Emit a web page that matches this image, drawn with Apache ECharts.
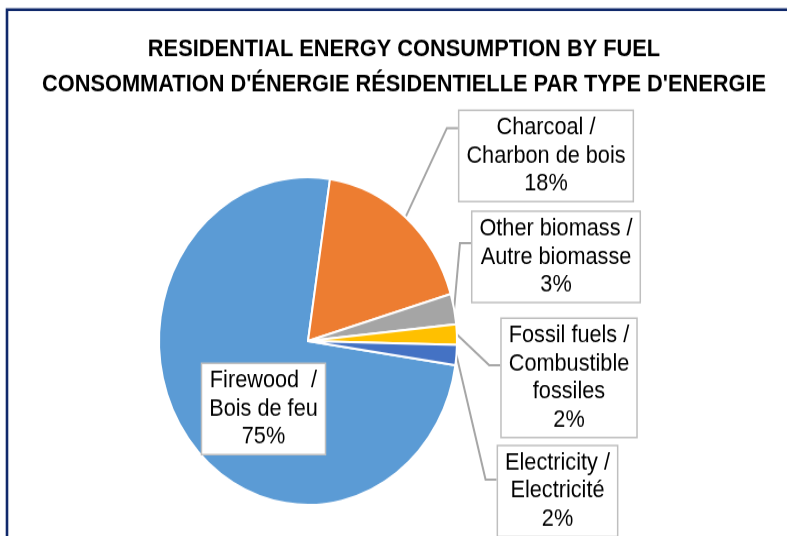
<!DOCTYPE html>
<html>
<head>
<meta charset="utf-8">
<script src="https://cdn.jsdelivr.net/npm/echarts@6/dist/echarts.min.js"></script>
<style>
html, body { margin: 0; padding: 0; background: #ffffff; overflow: hidden; }
#wrap { width: 787px; height: 536px; overflow: hidden; }
#chart { width: 787px; height: 488px; transform: scaleY(1.1); transform-origin: 0 0; }
</style>
</head>
<body>
<div id="wrap"><div id="chart"></div></div>
<script>
// ---- data ----
var titleLines = [
  'RESIDENTIAL ENERGY CONSUMPTION BY FUEL',
  "CONSOMMATION D'ÉNERGIE RÉSIDENTIELLE PAR TYPE D'ENERGIE"
];
var categories = [
  'Firewood  /\nBois de feu',
  'Charcoal /\nCharbon de bois',
  'Other biomass /\nAutre biomasse',
  'Fossil fuels /\nCombustible\nfossiles',
  'Electricity /\nElectricité'
];
var shares = [75, 18, 3, 2, 2];
var colors = ['#5B9BD5', '#ED7D31', '#A5A5A5', '#FFC000', '#4472C4'];

// ---- label box layout (centre of box, y of leader-line end) ----
var labelBoxes = [
  { cx: 263.5, cy: 371.8, lineY: null },
  { cx: 546, cy: 141.8, lineY: 116.4 },
  { cx: 556, cy: 233.6, lineY: 221 },
  { cx: 569, cy: 343.6, lineY: 332 },
  { cx: 557.5, cy: 446.4, lineY: 436 }
];

var chart = echarts.init(document.getElementById('chart'), null, { renderer: 'canvas' });

var pieData = categories.map(function (c, i) {
  var item = { name: c, value: shares[i], itemStyle: { color: colors[i] } };
  if (i === 0) {
    item.label = { position: 'inside' };
    item.labelLine = { show: false };
  }
  return item;
});

var option = {
  backgroundColor: '#ffffff',
  animation: false,
  title: {
    text: titleLines.join('\n'),
    left: 399,
    top: 24.5,
    textAlign: 'center',
    textStyle: {
      fontFamily: 'Liberation Sans',
      fontWeight: 'bold',
      fontSize: 21.8,
      lineHeight: 31.5,
      color: '#000000'
    }
  },
  graphic: [{
    type: 'rect',
    shape: { x: 7, y: 8.8, width: 900, height: 700 },
    style: { fill: 'none', stroke: '#10296b', lineWidth: 2.6 },
    silent: true,
    z: 100
  }],
  series: [{
    type: 'pie',
    center: [308, 310],
    radius: 149,
    startAngle: -8.5,
    clockwise: true,
    percentPrecision: 0,
    avoidLabelOverlap: false,
    itemStyle: { borderColor: '#ffffff', borderWidth: 2 },
    label: {
      show: true,
      position: 'outside',
      formatter: '{b}\n{d}%',
      fontFamily: 'Liberation Sans',
      fontSize: 21.7,
      lineHeight: 25.5,
      color: '#000000',
      align: 'center',
      backgroundColor: '#ffffff',
      borderColor: '#BFBFBF',
      borderWidth: 1.5,
      padding: [3, 7, 2, 7]
    },
    labelLine: {
      show: true,
      length: 10,
      length2: 10,
      lineStyle: { color: '#A6A6A6', width: 2 }
    },
    emphasis: { disabled: true },
    labelLayout: function (params) {
      var L = labelBoxes[params.dataIndex];
      var out = { x: L.cx, y: L.cy, align: 'center', verticalAlign: 'middle' };
      if (L.lineY !== null && params.labelLinePoints) {
        var p0 = params.labelLinePoints[0];
        var left = L.cx - params.labelRect.width / 2;
        out.labelLinePoints = [[p0[0], p0[1]], [left - 11, L.lineY], [left, L.lineY]];
      }
      return out;
    },
    data: pieData
  }]
};
chart.setOption(option);
</script>
</body>
</html>
